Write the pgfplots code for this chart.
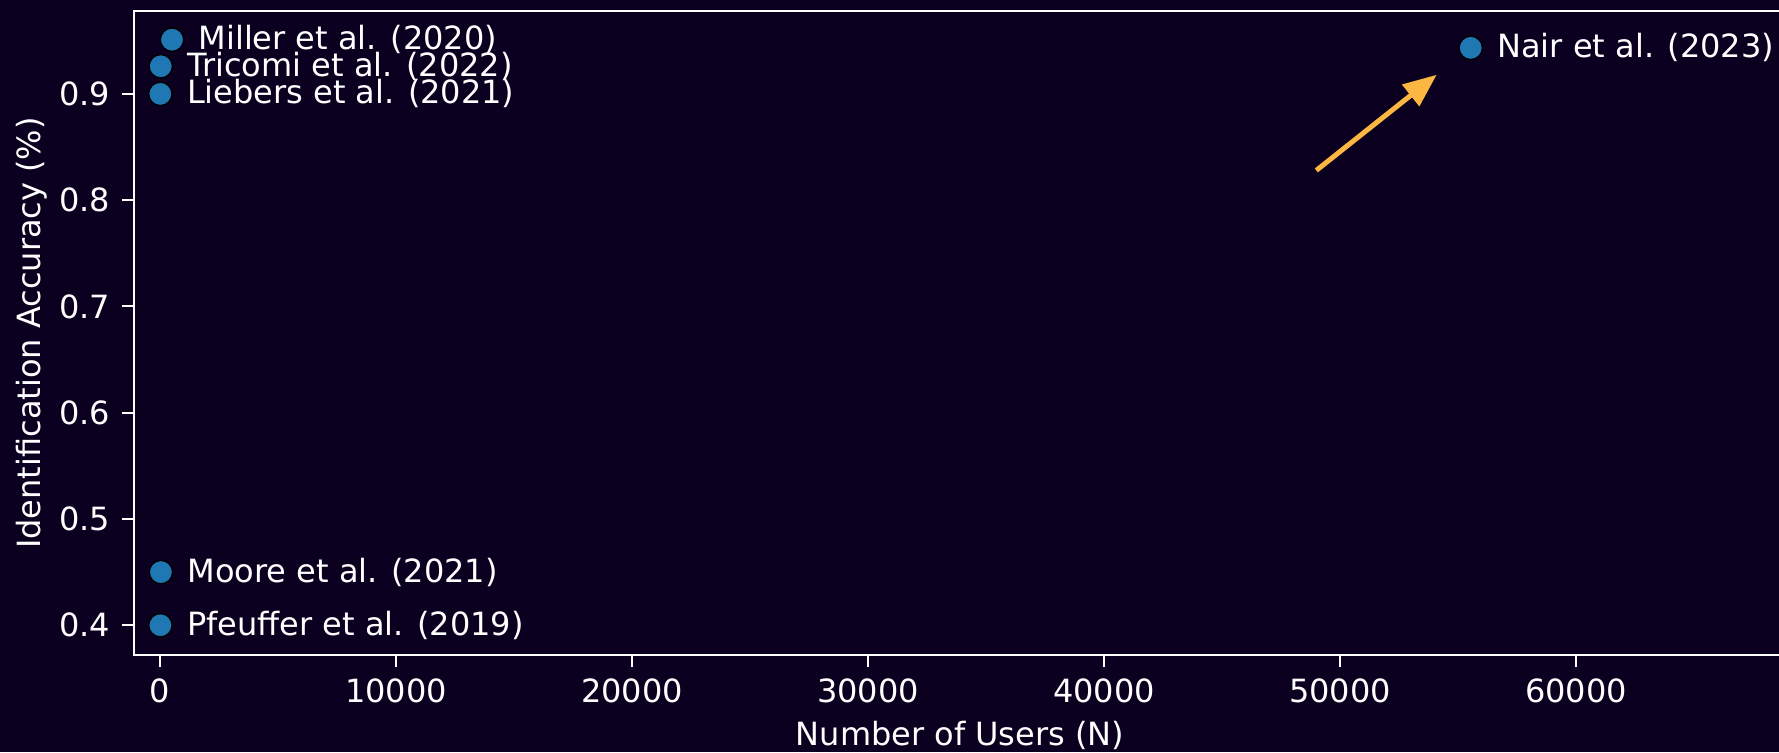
\documentclass[border=0pt]{standalone}
\usepackage{pgfplots}
\pgfplotsset{compat=1.18}
\usepackage{pgfplotstable}
\usepackage{fontspec}
\setmainfont{DejaVu Sans}
\usetikzlibrary{arrows.meta}
\definecolor{bg}{HTML}{0C0020}
\definecolor{ptc}{HTML}{1F77B4}
\definecolor{arr}{HTML}{FBB741}
\pgfplotstableread[col sep=comma]{
x,y,label
20,0.40,Pfeuffer et al. (2019)
41,0.45,Moore et al. (2021)
16,0.90,Liebers et al. (2021)
34,0.926,Tricomi et al. (2022)
511,0.951,Miller et al. (2020)
55541,0.9433,Nair et al. (2023)
}\datatable
\begin{document}
\begin{tikzpicture}
\fill[bg] (-40.2pt,-29.1pt) rectangle (493.5pt,196.5pt);
\begin{axis}[
  scale only axis,
  width=495.6pt, height=193.2pt,
  at={(0,0)}, anchor=south west,
  xmin=-1100, xmax=68900,
  ymin=0.372, ymax=0.978,
  clip=false,
  axis line style={white, line width=0.8pt},
  xtick={0,10000,20000,30000,40000,50000,60000},
  ytick={0.4,0.5,0.6,0.7,0.8,0.9},
  scaled x ticks=false,
  xticklabel style={/pgf/number format/1000 sep={}},
  yticklabel style={/pgf/number format/fixed, /pgf/number format/precision=1, /pgf/number format/fixed zerofill},
  /pgf/number format/assume math mode=true,
  tick align=outside,
  major tick length=3.6pt,
  tick style={white, line width=0.6pt},
  xtick pos=bottom, ytick pos=left,
  ticklabel style={font=\fontsize{9.6}{11.5}\selectfont, text=white},
  xlabel={Number of Users (N)},
  ylabel={Identification Accuracy (\%)},
  label style={font=\fontsize{9.6}{11.5}\selectfont, text=white},
  xlabel style={at={(axis description cs:0.5,0)}, anchor=center, yshift=-24pt},
  ylabel style={at={(axis description cs:-0.0617,0.5)}, anchor=center},
]
\addplot[arr, line width=1.5pt, -{Triangle[length=10pt,width=8pt]}] coordinates {(49000,0.828) (54100,0.918)};
\addplot[only marks, mark=*, mark size=3.5pt, mark options={fill=ptc, draw=none},
  nodes near coords, point meta=explicit symbolic,
  nodes near coords style={anchor=west, inner sep=0pt, xshift=7.8pt, text=white, font=\fontsize{9.6}{11.5}\selectfont}]
  table[x=x, y=y, meta=label] {\datatable};
\end{axis}
\pgfresetboundingbox
\path (-40.2pt,-29.1pt) rectangle (493.5pt,196.5pt);
\end{tikzpicture}
\end{document}
